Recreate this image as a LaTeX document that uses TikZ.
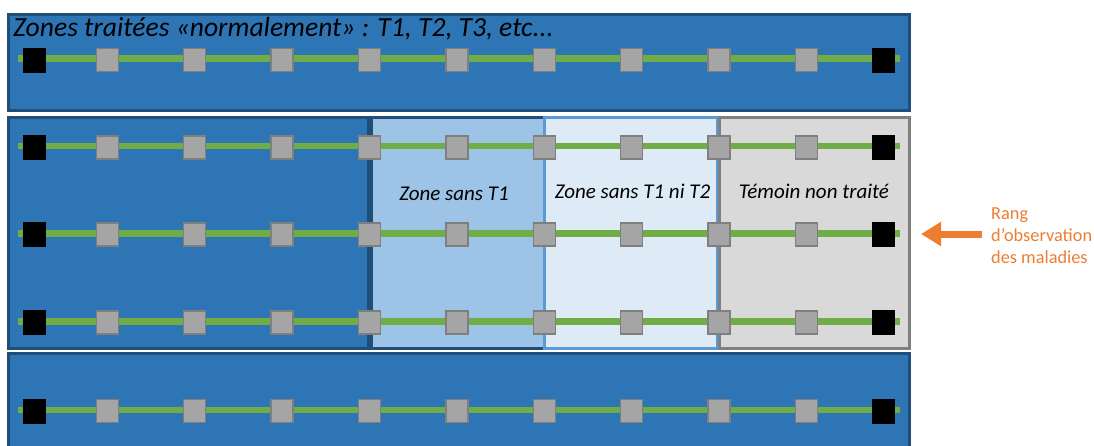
\documentclass[tikz,border=0pt]{standalone}
\usepackage{fontspec}
\setmainfont{Carlito}
\usetikzlibrary{arrows.meta}
\definecolor{blueF}{HTML}{2E75B6}
\definecolor{blueD}{HTML}{1F4E79}
\definecolor{zoneA}{HTML}{9DC3E6}
\definecolor{zoneB}{HTML}{DEEBF7}
\definecolor{zoneBd}{HTML}{5B9BD5}
\definecolor{zoneC}{HTML}{D9D9D9}
\definecolor{grayD}{HTML}{7F7F7F}
\definecolor{grayF}{HTML}{A5A5A5}
\definecolor{greenL}{HTML}{70AD47}
\definecolor{orangeL}{HTML}{ED7D31}
\tikzset{
  band/.style={fill=blueF, draw=blueD, line width=3pt},
  zonea/.style={fill=zoneA, draw=blueD, line width=3pt},
  zoneb/.style={fill=zoneB, draw=zoneBd, line width=3pt},
  zonec/.style={fill=zoneC, draw=grayD, line width=3pt},
  rowline/.style={draw=greenL, line width=6.5pt},
  sq/.style={draw=grayD, fill=grayF, line width=1.5pt, minimum width=22pt, minimum height=23pt, inner sep=0pt},
  blk/.style={fill=black, draw=none, minimum width=23pt, minimum height=25pt, inner sep=0pt},
  zonelabel/.style={font=\fontsize{21}{25}\selectfont\itshape, inner sep=0pt, anchor=base},
  title/.style={font=\fontsize{27.6}{32}\selectfont\itshape, inner sep=0pt, anchor=base west},
  note/.style={font=\fontsize{18.3}{22}\selectfont, text=orangeL, align=left, inner sep=0pt, anchor=base west},
  obsarrow/.style={draw=orangeL, line width=7pt, -{Triangle[length=20pt,width=23pt]}}
}
\begin{document}
\begin{tikzpicture}[x=1pt,y=-1pt]
\useasboundingbox (0,0) rectangle (1094,445);
\clip (0,0) rectangle (1094,445);
% bands
\draw[band] (8,14.5) rectangle (909,110.5);
\draw[band] (8,117) rectangle (909,348.5);
\draw[band] (8,353.5) rectangle (909,470);
\draw[band] (8,117) rectangle (368,348.5);
\draw[zonea] (371,117) rectangle (544,348.5);
\draw[zoneb] (544,117.5) rectangle (717.5,348);
\draw[zonec] (719.5,117.3) rectangle (909,348.3);
% rows
\foreach \r/\yy/\sy in {0/58.5/60, 1/146/147.5, 2/233.5/234.5, 3/321.7/322.3, 4/410/411}{
  \coordinate (L\r) at (18,\yy);
  \coordinate (R\r) at (900,\yy);
  \draw[rowline] (L\r) -- (R\r);
  \node[blk] (s\r-0) at (34.5,\sy) {};
  \foreach \c in {1,...,9}{
    \node[sq] (s\r-\c) at ({107.3+(\c-1)*87.4},\sy) {};
  }
  \node[blk] (s\r-10) at (883.5,\sy) {};
}
% labels
\node[title] (ttl) at (13,36) {Zones traitées «normalement» : T1, T2, T3, etc...};
\node[zonelabel] (za) at (454,200) {Zone sans T1};
\node[zonelabel] (zb) at (632.5,198) {Zone sans T1 ni T2};
\node[zonelabel] (zc) at (814,198) {Témoin non traité};
\node[note] (obs) at (991,263) {Rang\\d’observation\\des maladies};
\coordinate (arrS) at (982,234);
\coordinate (arrT) at (921,234);
\draw[obsarrow] (arrS) -- (arrT);
\end{tikzpicture}
\end{document}
